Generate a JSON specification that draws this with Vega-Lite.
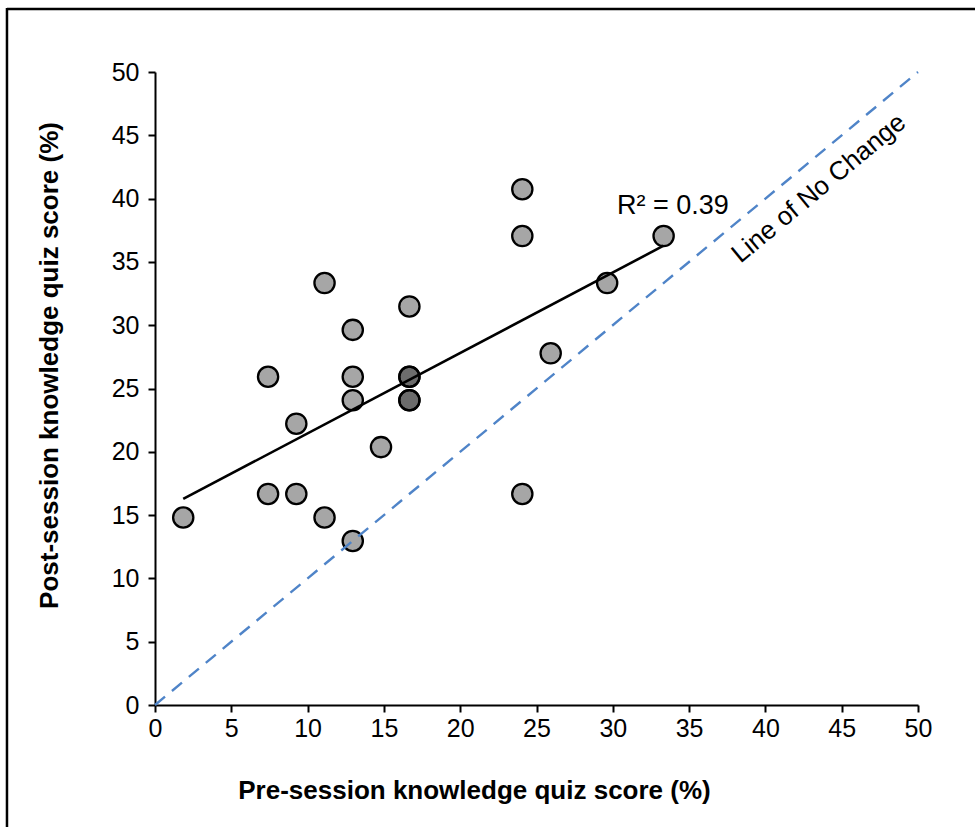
{
  "$schema": "https://vega.github.io/schema/vega-lite/v6.json",
  "width": 763,
  "height": 633,
  "autosize": {"type": "none"},
  "padding": {"left": 155, "top": 72, "right": 57, "bottom": 122},
  "background": "white",
  "config": {
    "view": {"stroke": null},
    "font": "Liberation Sans",
    "axis": {
      "grid": false,
      "domainColor": "#000",
      "domainWidth": 2,
      "tickColor": "#000",
      "tickWidth": 2,
      "tickSize": 7,
      "labelFont": "Liberation Sans",
      "labelFontSize": 25,
      "labelColor": "#000",
      "labelFlush": false,
      "titleFont": "Liberation Sans",
      "titleFontSize": 26,
      "titleFontWeight": "bold",
      "titleColor": "#000"
    }
  },
  "datasets": {
    "scores": [
      {"pre": 1.85, "post": 14.81},
      {"pre": 7.41, "post": 25.93},
      {"pre": 7.41, "post": 16.67},
      {"pre": 9.26, "post": 22.22},
      {"pre": 9.26, "post": 16.67},
      {"pre": 11.11, "post": 33.33},
      {"pre": 11.11, "post": 14.81},
      {"pre": 12.96, "post": 29.63},
      {"pre": 12.96, "post": 25.93},
      {"pre": 12.96, "post": 24.07},
      {"pre": 12.96, "post": 12.96},
      {"pre": 14.81, "post": 20.37},
      {"pre": 16.67, "post": 31.48},
      {"pre": 16.67, "post": 25.93},
      {"pre": 16.67, "post": 25.93},
      {"pre": 16.67, "post": 24.07},
      {"pre": 16.67, "post": 24.07},
      {"pre": 24.07, "post": 40.74},
      {"pre": 24.07, "post": 37.04},
      {"pre": 24.07, "post": 16.67},
      {"pre": 25.93, "post": 27.78},
      {"pre": 29.63, "post": 33.33},
      {"pre": 33.33, "post": 37.04}
    ],
    "identity": [
      {"pre": 0, "post": 0},
      {"pre": 50, "post": 50}
    ]
  },
  "layer": [
    {
      "data": {"name": "scores"},
      "mark": {
        "type": "circle",
        "size": 410,
        "fill": "#000",
        "fillOpacity": 0.35,
        "stroke": "#000",
        "strokeOpacity": 1,
        "strokeWidth": 2.3
      },
      "encoding": {
        "x": {
          "field": "pre",
          "type": "quantitative",
          "scale": {"domain": [0, 50], "nice": false, "zero": false},
          "axis": {
            "values": [0, 5, 10, 15, 20, 25, 30, 35, 40, 45, 50],
            "labelPadding": 4,
            "title": "Pre-session knowledge quiz score (%)",
            "titleX": 319,
            "titleY": 93,
            "titleAlign": "center",
            "titleBaseline": "alphabetic"
          }
        },
        "y": {
          "field": "post",
          "type": "quantitative",
          "scale": {"domain": [0, 50], "nice": false, "zero": false},
          "axis": {
            "values": [0, 5, 10, 15, 20, 25, 30, 35, 40, 45, 50],
            "labelPadding": 9,
            "title": "Post-session knowledge quiz score (%)",
            "titleX": -98,
            "titleY": 293,
            "titleAngle": -90,
            "titleAlign": "center",
            "titleBaseline": "alphabetic"
          }
        }
      }
    },
    {
      "data": {"name": "scores"},
      "transform": [{"regression": "post", "on": "pre"}],
      "mark": {"type": "line", "color": "#000", "strokeWidth": 2.6},
      "encoding": {
        "x": {"field": "pre", "type": "quantitative"},
        "y": {"field": "post", "type": "quantitative"}
      }
    },
    {
      "data": {"name": "identity"},
      "mark": {"type": "line", "color": "#4f84c8", "strokeWidth": 2.4, "strokeDash": [13, 9]},
      "encoding": {
        "x": {"field": "pre", "type": "quantitative"},
        "y": {"field": "post", "type": "quantitative"}
      }
    },
    {
      "data": {"values": [{"label": "R² = 0.39", "pre": 30.27, "post": 39.4}]},
      "mark": {"type": "text", "align": "left", "baseline": "middle", "font": "Liberation Sans", "fontSize": 27, "color": "#000"},
      "encoding": {
        "x": {"field": "pre", "type": "quantitative"},
        "y": {"field": "post", "type": "quantitative"},
        "text": {"field": "label"}
      }
    },
    {
      "data": {"values": [{"label": "Line of No Change", "pre": 43.5, "post": 40.8}]},
      "mark": {"type": "text", "align": "center", "baseline": "middle", "angle": 320.3, "font": "Liberation Sans", "fontSize": 26, "color": "#000"},
      "encoding": {
        "x": {"field": "pre", "type": "quantitative"},
        "y": {"field": "post", "type": "quantitative"},
        "text": {"field": "label"}
      }
    },
    {
      "data": {"values": [{"edge": "frame"}]},
      "mark": {"type": "rule", "color": "#000", "strokeWidth": 2.5},
      "encoding": {
        "x": {"datum": -9.7, "type": "quantitative"},
        "x2": {"datum": 54},
        "y": {"datum": 54.98, "type": "quantitative"},
        "y2": {"datum": 54.98}
      }
    },
    {
      "data": {"values": [{"edge": "frame"}]},
      "mark": {"type": "rule", "color": "#000", "strokeWidth": 2.5},
      "encoding": {
        "x": {"datum": -9.7, "type": "quantitative"},
        "x2": {"datum": -9.7},
        "y": {"datum": 55.05, "type": "quantitative"},
        "y2": {"datum": -10}
      }
    }
  ]
}
